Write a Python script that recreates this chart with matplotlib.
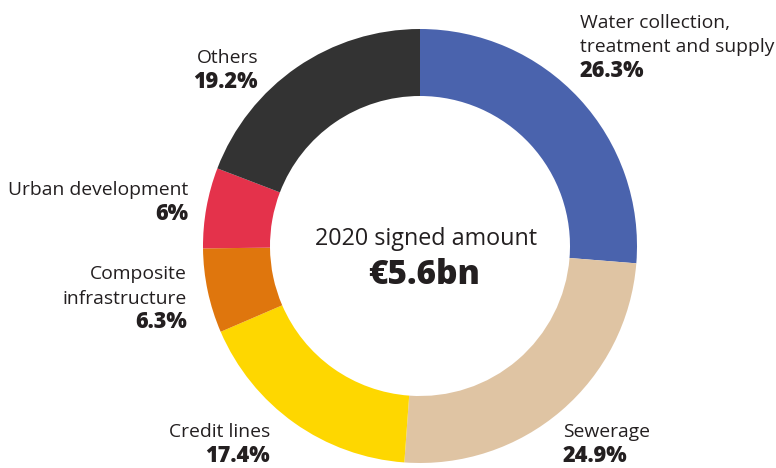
import matplotlib.pyplot as plt

categories = ["Water collection,\ntreatment and supply", "Sewerage", "Credit lines",
              "Composite\ninfrastructure", "Urban development", "Others"]
shares = [26.3, 24.9, 17.4, 6.3, 6.0, 19.2]
share_labels = ["26.3%", "24.9%", "17.4%", "6.3%", "6%", "19.2%"]
colors = ["#4a63ad", "#dfc4a3", "#fed700", "#df760d", "#e4324b", "#333333"]

plt.rcParams['font.family'] = ['Open Sans', 'DejaVu Sans']
H = 468
txt = '#231f20'

fig = plt.figure(figsize=(7.76, 4.68), dpi=100)
ax = fig.add_axes([0, 0, 1, 1])

ax.pie(shares, colors=colors, startangle=90, counterclock=False,
       center=(420, H - 246), radius=217,
       wedgeprops=dict(width=67, linewidth=0))
ax.set_xlim(0, 776)
ax.set_ylim(0, H)
ax.set_aspect('equal')
ax.axis('off')

# label anchor: x, baseline of first line (px from top), alignment
pos = [(580, 28, 'left'), (563, 437, 'left'), (270, 437, 'right'),
       (187, 279, 'right'), (188, 195, 'right'), (258, 63, 'right')]
step = 24.5
for (x, y, ha), name, lab in zip(pos, categories, share_labels):
    lines = name.split('\n')
    for i, line in enumerate(lines):
        ax.text(x, H - (y + i * step), line, ha=ha, va='baseline',
                fontsize=13.9, color=txt)
    ax.text(x, H - (y + len(lines) * step), lab, ha=ha, va='baseline',
            fontsize=15.6, fontweight='heavy', color=txt)

ax.text(426, H - 245, "2020 signed amount", ha='center', va='baseline',
        fontsize=16.8, color=txt)
ax.text(424, H - 284, "€5.6bn", ha='center', va='baseline', fontsize=24,
        fontweight='heavy', color=txt)

fig.savefig("out.png", dpi=100)
